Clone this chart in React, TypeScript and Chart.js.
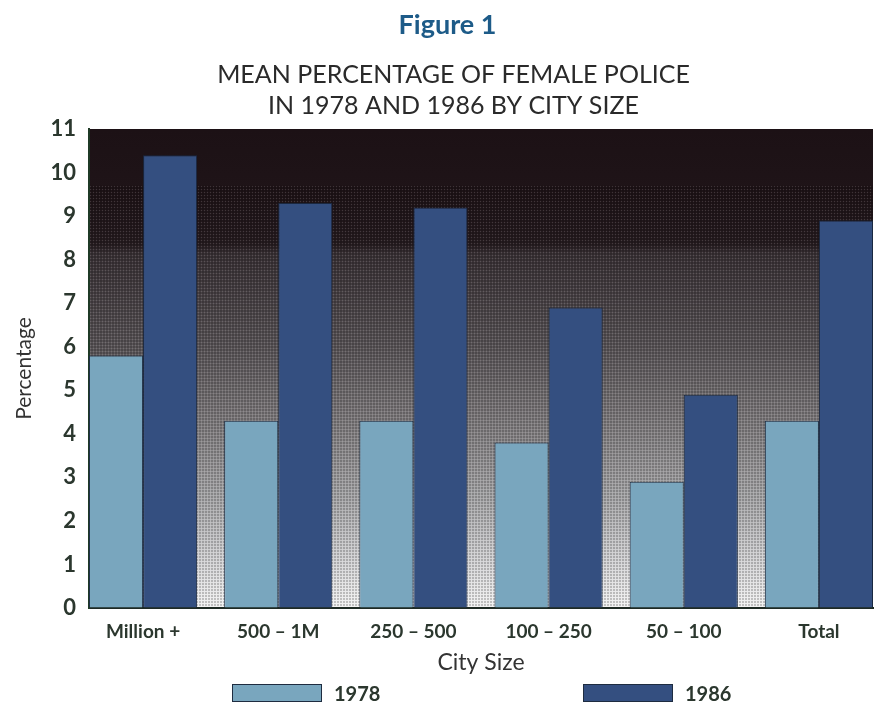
import React, { useEffect, useRef } from 'react';
import { Chart, registerables } from 'chart.js';

Chart.register(...registerables);

// ---- data ----
const categories = ['Million +', '500 – 1M', '250 – 500', '100 – 250', '50 – 100', 'Total'];
const seriesLabels = ['1978', '1986'];
const values1978 = [5.8, 4.3, 4.3, 3.8, 2.9, 4.3];
const values1986 = [10.4, 9.3, 9.2, 6.9, 4.9, 8.9];
const yMin = 0;
const yMax = 11;
const figureLabel = 'Figure 1';
const titleLines = ['MEAN PERCENTAGE OF FEMALE POLICE', 'IN 1978 AND 1986 BY CITY SIZE'];
const xAxisTitle = 'City Size';
const yAxisTitle = 'Percentage';

const FONT = 'Lato, "Open Sans", "DejaVu Sans", sans-serif';
const TEXT = '#2b372e';
const COLOR_1978 = '#79a6be';
const COLOR_1986 = '#344f80';

const backgroundPlugin = {
  id: 'halftoneBackground',
  beforeDraw(chart: any) {
    const { ctx, chartArea } = chart;
    const { left, top, right, bottom } = chartArea;
    const g = ctx.createLinearGradient(0, top, 0, bottom);
    g.addColorStop(0, '#1c1115');
    g.addColorStop(0.14, '#1f1418');
    g.addColorStop(0.24, '#261c20');
    g.addColorStop(0.26, '#3a3236');
    g.addColorStop(0.45, '#5a5558');
    g.addColorStop(0.62, '#838082');
    g.addColorStop(0.78, '#ababad');
    g.addColorStop(0.9, '#d4d4d6');
    g.addColorStop(1, '#f3f3f3');
    ctx.save();
    ctx.fillStyle = g;
    ctx.fillRect(left, top, right - left, bottom - top);
    const pc = document.createElement('canvas');
    pc.width = 3;
    pc.height = 3;
    const p = pc.getContext('2d')!;
    p.fillStyle = 'rgba(255,255,255,0.14)';
    p.fillRect(0, 0, 1, 1);
    p.fillStyle = 'rgba(0,0,0,0.2)';
    p.fillRect(1, 1, 2, 2);
    const texTop = chart.scales.y.getPixelForValue(9.7);
    ctx.fillStyle = ctx.createPattern(pc, 'repeat');
    ctx.fillRect(left, texTop, right - left, bottom - texTop);
    ctx.restore();
  },
};

const titlePlugin = {
  id: 'figureTitles',
  afterDraw(chart: any) {
    const { ctx } = chart;
    const cx = chart.width / 2;
    ctx.save();
    ctx.textAlign = 'center';
    ctx.textBaseline = 'middle';
    ctx.fillStyle = '#1d5b88';
    ctx.font = `bold 27px ${FONT}`;
    ctx.fillText(figureLabel, cx + 9, 25);
    ctx.fillStyle = '#2a2a2a';
    ctx.font = `25px ${FONT}`;
    titleLines.forEach((line, i) => {
      ctx.fillText(line, cx + 15, 75 + i * 31);
    });
    ctx.restore();
  },
};

const legendPlugin = {
  id: 'wideLegend',
  afterDraw(chart: any) {
    const { ctx, chartArea } = chart;
    const cx = (chartArea.left + chartArea.right) / 2;
    const startX = cx - 249;
    const pitch = 351;
    const y = chartArea.bottom + 76;
    ctx.save();
    chart.data.datasets.forEach((ds: any, i: number) => {
      const x = startX + i * pitch;
      ctx.fillStyle = ds.backgroundColor;
      ctx.fillRect(x, y, 90, 18);
      ctx.strokeStyle = '#1e2c40';
      ctx.lineWidth = 1;
      ctx.strokeRect(x + 0.5, y + 0.5, 89, 17);
      ctx.fillStyle = TEXT;
      ctx.font = `bold 20px ${FONT}`;
      ctx.textAlign = 'left';
      ctx.textBaseline = 'middle';
      ctx.fillText(ds.label, x + 102, y + 11);
    });
    ctx.restore();
  },
};

export default function App() {
  const canvasRef = useRef<HTMLCanvasElement | null>(null);

  useEffect(() => {
    if (!canvasRef.current) return;
    const chart = new Chart(canvasRef.current, {
      type: 'bar',
      data: {
        datasets: [
          {
            label: seriesLabels[0],
            data: values1978.map((v, i) => ({ x: i, y: v })),
            backgroundColor: COLOR_1978,
            borderColor: '#1f3148',
            borderWidth: 1,
          },
          {
            label: seriesLabels[1],
            data: values1986.map((v, i) => ({ x: i, y: v })),
            backgroundColor: COLOR_1986,
            borderColor: '#1a2840',
            borderWidth: 1,
          },
        ],
      },
      plugins: [backgroundPlugin, titlePlugin, legendPlugin],
      options: {
        responsive: false,
        animation: false,
        layout: { padding: { top: 129, right: 4, bottom: 29, left: 0 } },
        plugins: {
          legend: { display: false },
          title: { display: false },
          tooltip: { enabled: false },
        },
        datasets: {
          bar: { categoryPercentage: 0.8, barPercentage: 1.0 },
        },
        scales: {
          x: {
            type: 'linear',
            min: -0.4,
            max: categories.length - 0.6,
            offset: false,
            afterBuildTicks: (s: any) => {
              s.ticks = categories.map((_, i) => ({ value: i }));
            },
            afterFit: (s: any) => {
              s.height = 68;
            },
            grid: { display: true, drawOnChartArea: false, drawTicks: false },
            border: { display: true, color: '#1e2a24', width: 2 },
            ticks: {
              autoSkip: false,
              maxRotation: 0,
              padding: 12,
              color: TEXT,
              font: { family: FONT, size: 19, weight: 'bold' },
              callback: (v: any) => categories[v as number] ?? '',
            },
            title: {
              display: true,
              text: xAxisTitle,
              color: '#333',
              font: { family: FONT, size: 23 },
              padding: { top: 0, bottom: 0 },
            },
          },
          y: {
            min: yMin,
            max: yMax,
            afterFit: (s: any) => {
              s.width = 89;
            },
            grid: { display: true, drawOnChartArea: false, drawTicks: false },
            border: { display: true, color: '#1f3a26', width: 2 },
            ticks: {
              stepSize: 1,
              padding: 13,
              color: TEXT,
              font: { family: FONT, size: 22, weight: 'bold' },
            },
            title: {
              display: true,
              text: yAxisTitle,
              color: '#333',
              font: { family: FONT, size: 21 },
              padding: { top: 12, bottom: 0 },
            },
          },
        },
      } as any,
    });
    return () => chart.destroy();
  }, []);

  return (
    <div style={{ position: 'absolute', left: 0, top: 0, width: 877, height: 705, background: '#fff' }}>
      <canvas ref={canvasRef} width={877} height={705} style={{ display: 'block' }} />
    </div>
  );
}
